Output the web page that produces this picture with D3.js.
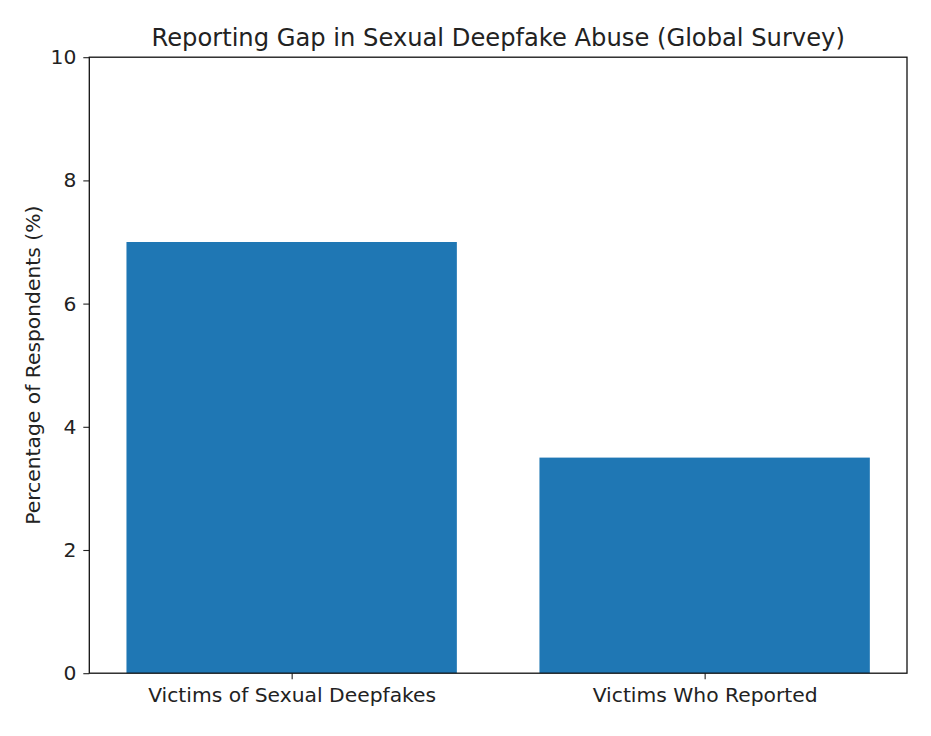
<!DOCTYPE html>
<html>
<head>
<meta charset="utf-8">
<script src="https://cdn.jsdelivr.net/npm/d3@7"></script>
<style>
  body { margin: 0; background: #fff; }
  text { font-family: "DejaVu Sans", sans-serif; fill: #222; }
</style>
</head>
<body>
<svg></svg>
<script>
const width = 931;
const height = 736;

// data
const categories = ["Victims of Sexual Deepfakes", "Victims Who Reported"];
const values = [7.0, 3.5];
const yTicks = [0, 2, 4, 6, 8, 10];

const margin = {left: 89.3, right: 931 - 907, top: 57.2, bottom: 736 - 673.2};

let svg = d3.select("svg")
    .attr("width", width)
    .attr("height", height);

// matplotlib style: categories at 0,1 with bar width 0.8
let x = d3.scaleLinear()
    .domain([-0.49, 1.49])
    .range([margin.left, width - margin.right]);

let y = d3.scaleLinear()
    .domain([0, 10])
    .range([height - margin.bottom, margin.top]);

svg.selectAll("rect.bar")
    .data(values)
    .enter().append("rect")
    .attr("class", "bar")
    .attr("x", (d, i) => x(i - 0.4))
    .attr("width", (d, i) => x(i + 0.4) - x(i - 0.4))
    .attr("y", d => y(d))
    .attr("height", d => y(0) - y(d))
    .style("fill", "#1f77b4");

// y axis
let yAxis = d3.axisLeft(y)
    .tickValues(yTicks)
    .tickFormat(d3.format("d"))
    .tickSize(6)
    .tickPadding(7);

let gy = svg.append("g")
    .attr("transform", `translate(${margin.left},0)`)
    .call(yAxis);
gy.select(".domain").remove();
gy.selectAll("line").attr("stroke", "#222").attr("stroke-width", 1.1);
gy.selectAll("text").style("font-size", "20.3px").style("fill", "#222");

// x axis
let xAxis = d3.axisBottom(x)
    .tickValues([0, 1])
    .tickFormat(i => categories[i])
    .tickSize(6)
    .tickPadding(8);

let gx = svg.append("g")
    .attr("transform", `translate(0,${height - margin.bottom})`)
    .call(xAxis);
gx.select(".domain").remove();
gx.selectAll("line").attr("stroke", "#222").attr("stroke-width", 1.1);
gx.selectAll("text").style("font-size", "20.3px").style("fill", "#222");

// frame
svg.append("rect")
    .attr("x", margin.left)
    .attr("y", margin.top)
    .attr("width", width - margin.right - margin.left)
    .attr("height", height - margin.bottom - margin.top)
    .style("fill", "none")
    .style("stroke", "#111")
    .style("stroke-width", 1.3);

// title
svg.append("text")
    .attr("x", (margin.left + width - margin.right) / 2)
    .attr("y", 46)
    .attr("text-anchor", "middle")
    .style("font-size", "24.2px")
    .text("Reporting Gap in Sexual Deepfake Abuse (Global Survey)");

// y label
svg.append("text")
    .attr("transform", `translate(40,${(margin.top + height - margin.bottom) / 2}) rotate(-90)`)
    .attr("text-anchor", "middle")
    .style("font-size", "20.3px")
    .text("Percentage of Respondents (%)");
</script>
</body>
</html>
